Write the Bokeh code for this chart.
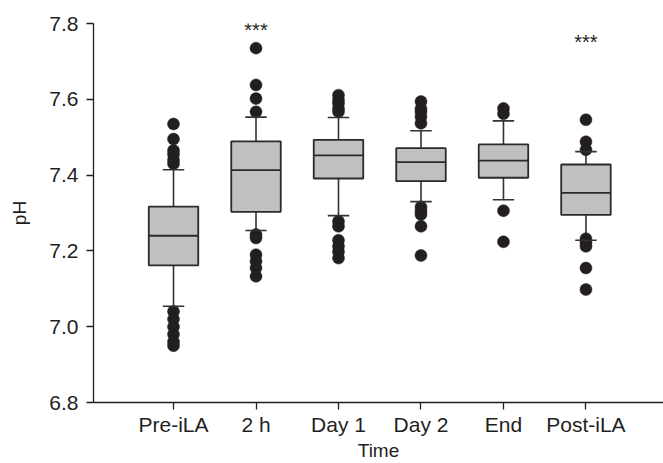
from bokeh.plotting import figure
from bokeh.models import FixedTicker, PrintfTickFormatter, Range1d, ColumnDataSource
from bokeh.core.properties import value
from bokeh.embed import file_html
from bokeh.resources import INLINE

categories = ["Pre-iLA", "2 h", "Day 1", "Day 2", "End", "Post-iLA"]
whisker_low = [7.054, 7.254, 7.293, 7.330, 7.335, 7.228]
q1 = [7.162, 7.303, 7.391, 7.384, 7.393, 7.295]
median = [7.240, 7.413, 7.452, 7.434, 7.438, 7.353]
q3 = [7.317, 7.489, 7.493, 7.471, 7.481, 7.428]
whisker_high = [7.414, 7.553, 7.552, 7.517, 7.543, 7.462]
outliers = [
    [7.535, 7.495, 7.465, 7.455, 7.44, 7.43, 7.04, 7.02, 7.00, 6.98, 6.96, 6.95],
    [7.735, 7.638, 7.602, 7.567, 7.243, 7.234, 7.19, 7.173, 7.155, 7.133],
    [7.611, 7.598, 7.589, 7.575, 7.567, 7.278, 7.265, 7.228, 7.212, 7.198, 7.181],
    [7.594, 7.575, 7.567, 7.554, 7.537, 7.316, 7.305, 7.296, 7.265, 7.188],
    [7.576, 7.562, 7.306, 7.224],
    [7.546, 7.488, 7.467, 7.232, 7.222, 7.212, 7.155, 7.098],
]
sig_labels = ["", "***", "", "", "", "***"]
sig_y = [None, 7.782, None, None, None, 7.751]
y_ticks = [6.8, 7.0, 7.2, 7.4, 7.6, 7.8]

FONT = "Liberation Sans"
DARK = "#231f20"
BOX_W = 0.6
CAP_W = 0.26

xs = list(range(len(categories)))

p = figure(width=663, height=463, output_backend="svg", toolbar_location=None,
           x_range=Range1d(-0.97, 5.94), y_range=Range1d(6.8, 7.8),
           min_border_left=93, min_border_right=0, min_border_top=23, min_border_bottom=60)
p.outline_line_color = None
p.xgrid.visible = False
p.ygrid.visible = False
p.background_fill_color = "white"
p.border_fill_color = "white"

src = ColumnDataSource(dict(
    x=xs, lo=whisker_low, q1=q1, med=median, q3=q3, hi=whisker_high,
    bx0=[x - BOX_W / 2 for x in xs], bx1=[x + BOX_W / 2 for x in xs],
    cx0=[x - CAP_W / 2 for x in xs], cx1=[x + CAP_W / 2 for x in xs],
))

# whisker stems
p.segment(x0="x", x1="x", y0="q3", y1="hi", source=src, line_color="#333333", line_width=1.6)
p.segment(x0="x", x1="x", y0="lo", y1="q1", source=src, line_color="#333333", line_width=1.6)

# outliers
ox, oy = [], []
for i, vals in enumerate(outliers):
    for v in vals:
        ox.append(xs[i])
        oy.append(v)
p.scatter(ox, oy, size=12, fill_color=DARK, line_color=DARK, line_width=0.5)

# caps
p.segment(x0="cx0", x1="cx1", y0="hi", y1="hi", source=src, line_color="#333333", line_width=1.6)
p.segment(x0="cx0", x1="cx1", y0="lo", y1="lo", source=src, line_color="#333333", line_width=1.6)

# boxes
p.vbar(x="x", width=BOX_W, bottom="q1", top="q3", source=src,
       fill_color="#bfc0c2", line_color="#2a2a2a", line_width=1.8)
p.segment(x0="bx0", x1="bx1", y0="med", y1="med", source=src, line_color="#2a2a2a", line_width=1.8)

# significance
sx = [xs[i] for i, s in enumerate(sig_labels) if s]
sy = [sig_y[i] for i, s in enumerate(sig_labels) if s]
st = [s for s in sig_labels if s]
p.text(x=sx, y=sy, text=st, text_font=value(FONT), text_font_size="20px",
       text_color=DARK, text_align="center", text_baseline="alphabetic")

# axes
p.xaxis.ticker = FixedTicker(ticks=xs)
p.xaxis.major_label_overrides = {x: c for x, c in zip(xs, categories)}
p.yaxis.ticker = FixedTicker(ticks=y_ticks)
p.yaxis.formatter = PrintfTickFormatter(format="%.1f")

for ax in (p.xaxis[0], p.yaxis[0]):
    ax.axis_line_color = DARK
    ax.axis_line_width = 1.3
    ax.major_tick_line_color = DARK
    ax.major_tick_line_width = 1.3
    ax.major_tick_out = 7
    ax.major_tick_in = 0
    ax.minor_tick_line_color = None
    ax.major_label_text_font = FONT
    ax.major_label_text_font_size = "21px"
    ax.major_label_text_color = DARK
    ax.axis_label_text_font = FONT
    ax.axis_label_text_font_size = "19px"
    ax.axis_label_text_font_style = "normal"
    ax.axis_label_text_color = DARK

p.xaxis.axis_label = "Time"
p.yaxis.axis_label = "pH"
p.xaxis.major_label_standoff = 3
p.xaxis.axis_label_standoff = 1
p.yaxis.major_label_standoff = 8
p.yaxis.axis_label_standoff = 16

open("out.html", "w").write(file_html(p, INLINE))
